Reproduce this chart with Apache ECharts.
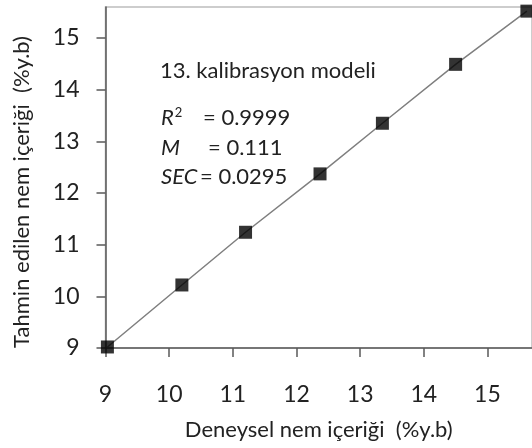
<!DOCTYPE html>
<html>
<head>
<meta charset="utf-8">
<script src="https://cdn.jsdelivr.net/npm/echarts@6/dist/echarts.min.js"></script>
<style>
  html, body { margin: 0; padding: 0; background: #fff; }
  #chart { width: 532px; height: 448px; }
</style>
</head>
<body>
<div id="chart"></div>
<script>
// Measured (Deneysel) vs predicted (Tahmin edilen) moisture content, % y.b
const measured  = [9.03, 10.20, 11.20, 12.37, 13.35, 14.50, 15.62];
const predicted = [9.02, 10.22, 11.24, 12.37, 13.35, 14.49, 15.52];

// Axis tick labels
const xTicks = [9, 10, 11, 12, 13, 14, 15];
const yTicks = [9, 10, 11, 12, 13, 14, 15];

// Axis titles
const xTitle = 'Deneysel nem içeriği  (%y.b)';
const yTitle = 'Tahmin edilen nem içeriği  (%y.b)';

// Calibration statistics shown inside the plot
const modelTitle = '13. kalibrasyon modeli';
const statNames  = ['R', 'M', 'SEC'];
const statSups   = ['2', '', ''];
const statValues = ['0.9999', '0.111', '0.0295'];

const FONT = 'Lato, "Open Sans", sans-serif';
const TEXT = '#222222';

const points = measured.map((x, i) => [x, predicted[i]]);

const chart = echarts.init(document.getElementById('chart'), null, { renderer: 'canvas' });

// Stats block: italic name, optional superscript, then "= value"
const statX = [203, 208, 200];
const statY = [118, 148, 177];
const graphic = [
  {
    type: 'text', x: 160, y: 71,
    style: { text: modelTitle, fontSize: 22, fontFamily: FONT, fill: TEXT, verticalAlign: 'middle' }
  },
  {
    // vertical axis title, rotated to read bottom-to-top
    type: 'text', x: 22, y: 192, rotation: Math.PI / 2,
    style: { text: yTitle, fontSize: 22, fontFamily: FONT, fill: TEXT, align: 'center', verticalAlign: 'middle' }
  }
];
statNames.forEach((name, i) => {
  graphic.push({
    type: 'text', x: 161, y: statY[i],
    style: {
      text: '{i|' + name + '}' + (statSups[i] ? '{s|' + statSups[i] + '}' : ''),
      verticalAlign: 'middle',
      rich: {
        i: { fontSize: 22, fontFamily: FONT, fontStyle: 'italic', fill: TEXT },
        s: { fontSize: 13, fontFamily: FONT, fill: TEXT, padding: [0, 0, 11, 1] }
      }
    }
  });
  graphic.push({
    type: 'text', x: statX[i], y: statY[i],
    style: { text: '= ' + statValues[i], fontSize: 22, fontFamily: FONT, fill: TEXT, verticalAlign: 'middle' }
  });
});

chart.setOption({
  animation: false,
  backgroundColor: '#ffffff',
  grid: {
    left: 105.5, right: -3, top: 7, bottom: 100,
    show: true, borderColor: '#bdbdbd', borderWidth: 1.5, backgroundColor: 'transparent'
  },
  xAxis: {
    type: 'value', min: 9, max: 15.7, interval: 1,
    splitLine: { show: false },
    axisLine: { show: true, onZero: false, lineStyle: { color: '#595959', width: 1.5 } },
    axisTick: { show: true, inside: false, length: 9, customValues: xTicks, lineStyle: { color: '#595959', width: 1.5 } },
    axisLabel: { customValues: xTicks, margin: 35, fontSize: 23, fontFamily: FONT, color: TEXT },
    name: xTitle,
    nameLocation: 'middle', nameGap: 71,
    nameTextStyle: { fontSize: 22, fontFamily: FONT, color: TEXT }
  },
  yAxis: {
    type: 'value', min: 9, max: 15.6, interval: 1,
    splitLine: { show: false },
    axisLine: { show: true, onZero: false, lineStyle: { color: '#595959', width: 1.5 } },
    axisTick: { show: true, inside: false, length: 9, customValues: yTicks, lineStyle: { color: '#595959', width: 1.5 } },
    axisLabel: { customValues: yTicks, margin: 26, fontSize: 23, fontFamily: FONT, color: TEXT }
  },
  series: [
    {
      type: 'line',
      data: points,
      showSymbol: false,
      lineStyle: { color: '#7f7f7f', width: 1.5 },
      z: 2
    },
    {
      type: 'scatter',
      data: points,
      symbol: 'rect',
      symbolSize: 13,
      itemStyle: { color: '#000000' },
      clip: false,
      z: 3
    }
  ],
  graphic: graphic
});
</script>
</body>
</html>
